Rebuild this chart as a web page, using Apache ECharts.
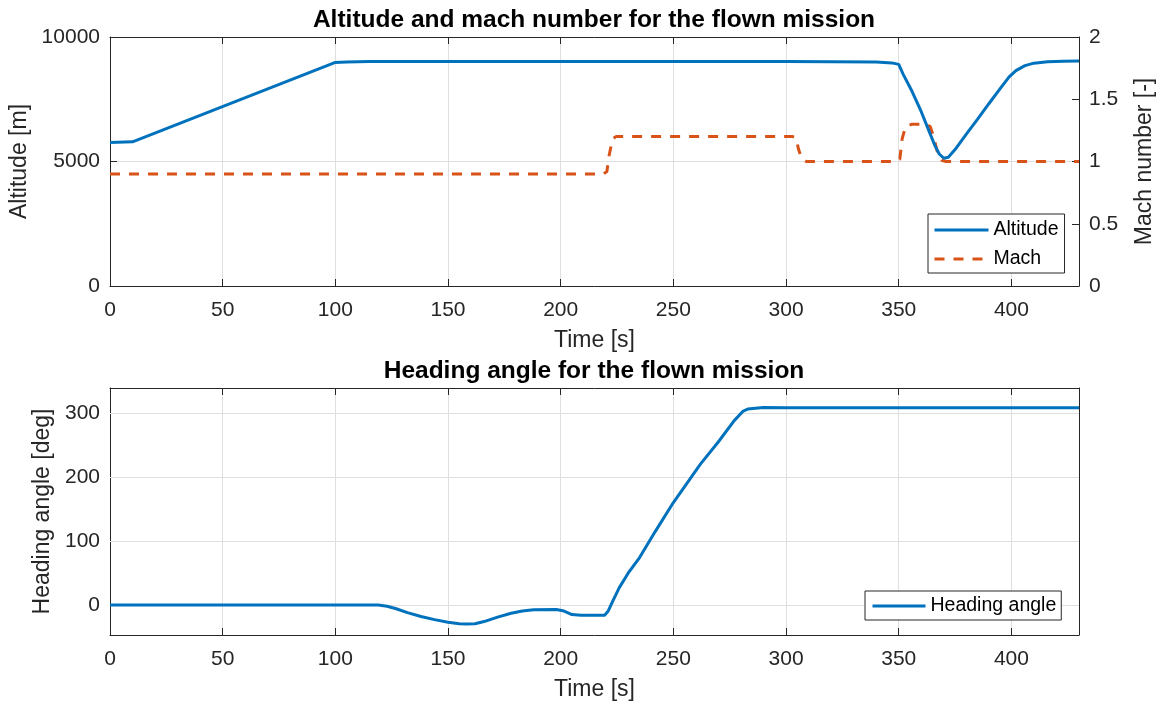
<!DOCTYPE html>
<html>
<head>
<meta charset="utf-8">
<script src="https://cdn.jsdelivr.net/npm/echarts@6/dist/echarts.min.js"></script>
<style>
html,body{margin:0;padding:0;background:#fff;}
#chart{width:1163px;height:709px;}
</style>
</head>
<body>
<div id="chart"></div>
<script>
// ---- data ----
const timeAlt = [0, 10, 100, 105, 115, 200, 300, 340, 347, 350, 352, 356, 360, 364, 366, 368, 370, 372, 375, 380, 385, 390, 395, 399, 402, 406, 410, 416, 423, 430];
const altitude = [5760, 5790, 8980, 9000, 9020, 9020, 9020, 9000, 8960, 8900, 8500, 7800, 7000, 6100, 5650, 5300, 5130, 5170, 5480, 6100, 6700, 7320, 7930, 8400, 8650, 8850, 8950, 9010, 9030, 9040];
const timeMach = [0, 219, 220.5, 221.5, 223, 224.5, 303, 304.5, 305.5, 307, 309, 349, 350.5, 351.5, 353, 356, 362, 364, 365.5, 367.5, 369, 371, 430];
const mach = [0.9, 0.9, 0.92, 1.05, 1.18, 1.2, 1.2, 1.19, 1.1, 1.02, 1.0, 1.0, 1.02, 1.18, 1.28, 1.3, 1.3, 1.28, 1.2, 1.05, 1.01, 1.0, 1.0];
const timeHdg = [0, 119, 123, 127, 132, 138, 144, 150, 155, 158, 162, 166, 172, 178, 183, 188, 198, 201, 205, 209, 219.5, 221, 223, 226, 230, 235, 242, 250, 262, 270, 277, 281, 283, 290, 300, 430];
const heading = [0, 0, -2, -6, -12, -18, -23, -27, -29.5, -30, -29.5, -26, -19, -13, -9.5, -7.5, -7, -9, -15, -16, -16, -10, 5, 27, 50, 74, 115, 160, 220, 255, 288, 303, 306, 308.5, 308, 308];
const headingTicks = [0, 100, 200, 300];
const titles = ['Altitude and mach number for the flown mission', 'Heading angle for the flown mission'];

const pairs = (xs, ys) => xs.map((x, i) => [x, ys[i]]);

const FONT = "'Liberation Sans', Arial, Helvetica, sans-serif";
const AX = '#262626';
const GRIDC = '#dfdfdf';
const tickIn = {show: true, inside: true, length: 7, lineStyle: {color: AX, width: 1}};
const axLine = {show: true, onZero: false, lineStyle: {color: AX, width: 1}};
const plain = v => String(v);
const lbl = {color: AX, fontSize: 21, fontFamily: FONT, formatter: plain};
const nameStyle = {color: AX, fontSize: 23, fontFamily: FONT};

function xMain(grid) {
  return {type: 'value', gridIndex: grid, position: 'bottom', min: 0, max: 430, interval: 50,
    axisLine: axLine, axisTick: tickIn,
    axisLabel: Object.assign({margin: 14, showMaxLabel: false}, lbl),
    splitLine: {show: true, lineStyle: {color: GRIDC, width: 1}},
    name: 'Time [s]', nameLocation: 'middle', nameGap: 43, nameTextStyle: nameStyle};
}
function xMirror(grid) {
  return {type: 'value', gridIndex: grid, position: 'top', min: 0, max: 430, interval: 50,
    axisLine: axLine, axisTick: tickIn, axisLabel: {show: false}, splitLine: {show: false}};
}

const legendCommon = {orient: 'vertical', itemWidth: 54, itemHeight: 14,
  borderColor: AX, borderWidth: 1, backgroundColor: '#fff',
  itemStyle: {opacity: 0, borderWidth: 0},
  lineStyle: {width: 3},
  textStyle: {fontSize: 19.5, color: '#000', fontFamily: FONT}};

const chart = echarts.init(document.getElementById('chart'), null, {renderer: 'canvas'});
chart.setOption({
  animation: false,
  backgroundColor: '#fff',
  textStyle: {fontFamily: FONT},
  title: [
    {text: titles[0], left: 594, top: 8, textAlign: 'center', padding: 0,
     textStyle: {fontSize: 24.5, fontWeight: 'bold', color: '#000', fontFamily: FONT}},
    {text: titles[1], left: 594, top: 359, textAlign: 'center', padding: 0,
     textStyle: {fontSize: 24.5, fontWeight: 'bold', color: '#000', fontFamily: FONT}}
  ],
  grid: [
    {left: 110, right: 84, top: 37, height: 249, outerBoundsMode: 'none', containLabel: false},
    {left: 110, right: 84, top: 388, height: 247, outerBoundsMode: 'none', containLabel: false}
  ],
  legend: [
    Object.assign({data: ['Altitude', 'Mach'], left: 928, top: 214,
      padding: [6, 6, 4, 5], itemGap: 9}, legendCommon),
    Object.assign({data: ['Heading angle'], left: 865, top: 591,
      padding: [5, 5, 4, 6]}, legendCommon, {itemWidth: 53})
  ],
  xAxis: [xMain(0), xMirror(0), xMain(1), xMirror(1)],
  yAxis: [
    {type: 'value', gridIndex: 0, position: 'left', min: 0, max: 10000, interval: 5000,
     axisLine: axLine, axisTick: tickIn, axisLabel: Object.assign({margin: 10}, lbl),
     splitLine: {show: true, lineStyle: {color: GRIDC, width: 1}},
     name: 'Altitude [m]', nameLocation: 'middle', nameGap: 77, nameTextStyle: nameStyle},
    {type: 'value', gridIndex: 0, position: 'right', min: 0, max: 2, interval: 0.5,
     axisLine: axLine, axisTick: tickIn, axisLabel: Object.assign({margin: 10}, lbl),
     splitLine: {show: false},
     name: 'Mach number [-]', nameLocation: 'middle', nameGap: 54, nameTextStyle: nameStyle},
    {type: 'value', gridIndex: 1, position: 'left', min: -47, max: 339,
     axisLine: axLine, axisTick: Object.assign({customValues: headingTicks}, tickIn),
     axisLabel: Object.assign({margin: 10, customValues: headingTicks}, lbl),
     splitLine: {show: false},
     name: 'Heading angle [deg]', nameLocation: 'middle', nameGap: 48, nameTextStyle: nameStyle},
    {type: 'value', gridIndex: 1, position: 'right', min: -47, max: 339,
     axisLine: axLine, axisTick: Object.assign({customValues: headingTicks}, tickIn),
     axisLabel: {show: false, customValues: headingTicks}, splitLine: {show: false}}
  ],
  series: [
    {name: 'gridlines', type: 'line', xAxisIndex: 2, yAxisIndex: 2, data: [], z: 1, silent: true,
     markLine: {silent: true, symbol: 'none', label: {show: false}, z: 1,
       lineStyle: {color: GRIDC, width: 1, type: 'solid'}, emphasis: {disabled: true},
       data: headingTicks.map(v => ({yAxis: v}))}},
    {name: 'Altitude', type: 'line', xAxisIndex: 0, yAxisIndex: 0, data: pairs(timeAlt, altitude),
     showSymbol: false, symbol: 'none', z: 3, color: '#0072BD',
     lineStyle: {color: '#0072BD', width: 3}},
    {name: 'Mach', type: 'line', xAxisIndex: 0, yAxisIndex: 1, data: pairs(timeMach, mach),
     showSymbol: false, symbol: 'none', z: 2, color: '#D95319',
     lineStyle: {color: '#D95319', width: 3, type: [10, 9]}},
    {name: 'Heading angle', type: 'line', xAxisIndex: 2, yAxisIndex: 2, data: pairs(timeHdg, heading),
     showSymbol: false, symbol: 'none', z: 3, color: '#0072BD',
     lineStyle: {color: '#0072BD', width: 3}}
  ]
});
</script>
</body>
</html>
